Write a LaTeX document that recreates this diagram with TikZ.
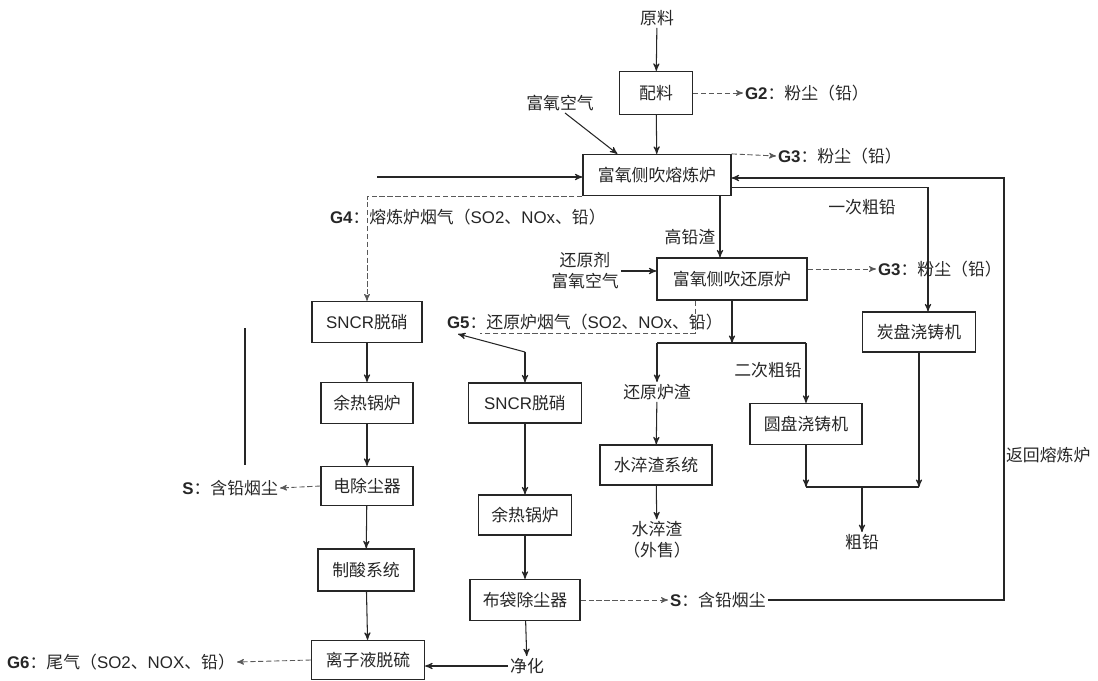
\documentclass[tikz,border=0pt]{standalone}
\usepackage{fontspec}
\setmainfont{Noto Sans CJK SC}
\newfontfamily\latinfont{Liberation Sans}
\usepackage{tikz}
\usetikzlibrary{arrows}
\usetikzlibrary{calc}
\tikzset{
    tnode/.style = {align=center, inner sep=1pt, text=black!85, font=\fontsize{9.6}{12}\selectfont},
    pbox/.style = {tnode, rectangle, draw=black!85, line width=0.7pt},
    conn/.style = {line width=0.6pt, draw=black!85},
    flow/.style = {conn, ->},
    gas/.style = {->, line width=0.5pt, draw=black!65, dash pattern=on 3pt off 1.5pt},
    gasline/.style = {gas, -}
}
\newcommand{\gtag}[1]{{\latinfont\bfseries #1}}
\newcommand{\lat}[1]{{\latinfont #1}}

\begin{document}
\begin{tikzpicture}[x=0.2mm, y=-0.2mm, >=stealth']
    \useasboundingbox (0,0) rectangle (1098,680);
    % smelting line
    \node [tnode] (yl) at (657,18) {原料};
    \node [pbox, minimum width=14.6mm, minimum height=8.6mm] (pl) at (656,93) {配料};
    \node [tnode, anchor=west] (g2) at (743,93) {\gtag{G2}：粉尘（铅）};
    \node [tnode] (fykq) at (560,103) {富氧空气};
    \node [pbox, minimum width=29.6mm, minimum height=8.2mm] (rl) at (657,175) {富氧侧吹熔炼炉};
    \node [tnode, anchor=west] (g3a) at (776,156) {\gtag{G3}：粉尘（铅）};
    \node [tnode, anchor=west] (g4) at (328,217) {\gtag{G4}：熔炼炉烟气（\lat{SO2}、\lat{NOx}、铅）};
    \node [tnode] (gqz) at (690,237) {高铅渣};
    \node [tnode] (ycq) at (862,207) {一次粗铅};
    % reduction line
    \node [tnode] (hyj) at (585,271) {还原剂\\富氧空气};
    \node [pbox, minimum width=30mm, minimum height=8.4mm] (hyl) at (732,279) {富氧侧吹还原炉};
    \node [tnode, anchor=west] (g3b) at (876,269) {\gtag{G3}：粉尘（铅）};
    \node [pbox, minimum width=22.6mm, minimum height=8mm] (tpz) at (919,332) {炭盘浇铸机};
    \node [tnode, anchor=west] (g5) at (445,322) {\gtag{G5}：还原炉烟气（\lat{SO2}、\lat{NOx}、铅）};
    \node [tnode] (hylz) at (657,392) {还原炉渣};
    \node [tnode] (ecq) at (768,370) {二次粗铅};
    \node [pbox, minimum width=22.4mm, minimum height=8.2mm] (ypz) at (806,424) {圆盘浇铸机};
    \node [pbox, minimum width=22.4mm, minimum height=8mm] (scxt) at (656,465) {水淬渣系统};
    \node [tnode] (scz) at (657,540) {水淬渣\\（外售）};
    \node [tnode] (cq) at (862,542) {粗铅};
    \node [tnode, anchor=west] (fh) at (1004,455) {返回熔炼炉};
    % gas treatment, left
    \node [pbox, minimum width=22mm, minimum height=8.2mm] (sncr1) at (367,322) {\lat{SNCR}脱硝};
    \node [pbox, minimum width=18.4mm, minimum height=8.2mm] (yr1) at (367,403) {余热锅炉};
    \node [pbox, minimum width=18.4mm, minimum height=7.8mm] (dc) at (367,486) {电除尘器};
    \node [tnode, anchor=east] (s1) at (280,488) {\gtag{S}：含铅烟尘};
    \node [pbox, minimum width=19.2mm, minimum height=8.4mm] (zs) at (366,570) {制酸系统};
    \node [pbox, minimum width=22.6mm, minimum height=7.8mm] (lz) at (368,660) {离子液脱硫};
    \node [tnode, anchor=west] (g6) at (5,662) {\gtag{G6}：尾气（\lat{SO2}、\lat{NOX}、铅）};
    % gas treatment, middle
    \node [pbox, minimum width=22.6mm, minimum height=8mm] (sncr2) at (525,403) {\lat{SNCR}脱硝};
    \node [pbox, minimum width=18.6mm, minimum height=8mm] (yr2) at (525,515) {余热锅炉};
    \node [pbox, minimum width=22mm, minimum height=8.2mm] (bd) at (525,600) {布袋除尘器};
    \node [tnode, anchor=west] (s2) at (668,600) {\gtag{S}：含铅烟尘};
    \node [tnode] (jh) at (527,666) {净化};

    \coordinate (fkin) at ($(rl.north west)+(35,0)$);
    \coordinate (zin) at (377,177);
    \coordinate (vtop) at (245,328);
    \coordinate (vbot) at (245,465);
    \coordinate (fhc) at (1004,600);
    \coordinate (gqin) at ($(hyl.north)+(-12,0)$);
    \coordinate (g5e) at (480,333);
    \coordinate (g5t) at (458,334);
    \coordinate (g5k) at (525,352);
    \coordinate (fork) at (732,343);
    \coordinate (join) at (862,487);

    \draw [flow] (yl) -- (pl);
    \draw [gas] (pl.east) -- (g2.west);
    \draw [flow] (pl) -- (rl);
    \draw [flow] ($(fykq.south)+(5,0)$) -- (fkin);
    \draw [gas] (rl.north east) -- (g3a.west);
    \draw [flow] (zin) -- (zin -| rl.west);
    \draw [conn] (vtop) -- (vbot);
    \draw [flow] (s2.east) -- (fhc) |- ($(rl.east)+(0,3)$);
    \draw [flow] ($(rl.south east)+(0,-9)$) -| ($(tpz.north)+(9,0)$);
    \draw [gas] (rl.south west) -| (sncr1.north);
    \draw [flow] (rl.south -| gqin) -- (gqin);
    \draw [flow] (hyj.east) -- (hyj.east -| hyl.west);
    \draw [gas] (hyl.east |- g3b.west) -- (g3b.west);
    \draw [gasline] ($(hyl.south)+(-37,0)$) |- (g5e);
    \draw [flow] (g5k) -- (g5t);
    \draw [flow] (g5k) -- (sncr2);
    \draw [flow] (hyl.south) -- (fork);
    \draw [conn] (hylz.north |- fork) -- (ypz.north |- fork);
    \draw [flow] (hylz.north |- fork) -- (hylz.north);
    \draw [flow] (ypz.north |- fork) -- (ypz.north);
    \draw [flow] (hylz) -- (scxt);
    \draw [flow] (scxt) -- (scz);
    \draw [flow] (ypz.south) -- (ypz.south |- join);
    \draw [flow] (tpz.south) -- (tpz.south |- join);
    \draw [conn] (ypz.south |- join) -- (tpz.south |- join);
    \draw [flow] (join) -- (cq);
    \draw [flow] (sncr1) -- (yr1);
    \draw [flow] (yr1) -- (dc);
    \draw [gas] (dc.west) -- (s1.east);
    \draw [flow] (dc) -- (zs);
    \draw [flow] (zs) -- (lz);
    \draw [gas] (lz.west) -- (g6.east);
    \draw [flow] (jh.west) -- (jh.west -| lz.east);
    \draw [flow] (sncr2) -- (yr2);
    \draw [flow] (yr2) -- (bd);
    \draw [gas] (bd.east) -- (s2.west);
    \draw [flow] (bd) -- (jh);
\end{tikzpicture}
\end{document}
